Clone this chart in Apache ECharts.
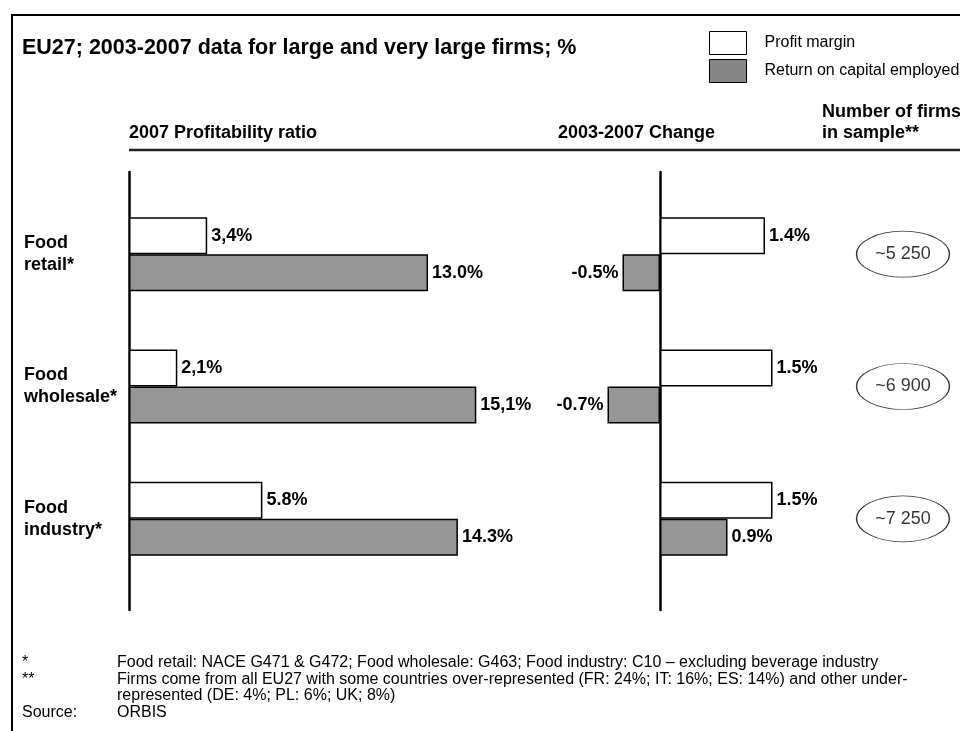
<!DOCTYPE html>
<html>
<head>
<meta charset="utf-8">
<script src="https://cdn.jsdelivr.net/npm/echarts@6/dist/echarts.min.js"></script>
<style>
  html, body { margin: 0; padding: 0; background: #fff; }
  #chart { width: 960px; height: 731px; }
</style>
</head>
<body>
<div id="chart"></div>
<script>
// Sectors, top to bottom
const categories = ['Food\nretail*', 'Food\nwholesale*', 'Food\nindustry*'];

// 2007 profitability ratio, %
const profitMargin2007 = [3.4, 2.1, 5.8];
const roce2007 = [13.0, 15.1, 14.3];
const profitMargin2007Labels = ['3,4%', '2,1%', '5.8%'];
const roce2007Labels = ['13.0%', '15,1%', '14.3%'];

// 2003-2007 change, percentage points
const profitMarginChange = [1.4, 1.5, 1.5];
const roceChange = [-0.5, -0.7, 0.9];
const profitMarginChangeLabels = ['1.4%', '1.5%', '1.5%'];
const roceChangeLabels = ['-0.5%', '-0.7%', '0.9%'];

// Number of firms in the sample (approximate)
const firmsInSample = [5250, 6900, 7250];

const FONT = '"Liberation Sans", Arial, Helvetica, sans-serif';
const GREY = '#969696';

function firmsText(n) {
  const thousands = Math.floor(n / 1000);
  const rest = String(n % 1000).padStart(3, '0');
  return '~' + thousands + ' ' + rest;
}

const valueLabel = {
  show: true,
  position: 'right',
  distance: 4,
  color: '#000',
  fontFamily: FONT,
  fontSize: 18,
  fontWeight: 'bold'
};

function labelledData(values, labels) {
  return values.map((v, i) => ({
    value: v,
    label: Object.assign({}, valueLabel, {
      position: v < 0 ? 'left' : 'right',
      formatter: labels[i]
    })
  }));
}

const gridCommon = { containLabel: false, outerBoundsMode: 'none' };
const hiddenValueAxis = (gridIndex, min, max) => ({
  type: 'value', gridIndex, min, max, show: false, splitLine: { show: false }
});
const categoryAxis = (gridIndex, extra) => Object.assign({
  type: 'category', gridIndex, data: categories, inverse: true,
  axisLine: { show: false }, axisTick: { show: false }, axisLabel: { show: false },
  splitLine: { show: false }
}, extra || {});
const spineAxis = (gridIndex) => ({
  type: 'category', gridIndex, data: [''],
  axisLine: { show: true, onZero: true, lineStyle: { color: '#000', width: 2.5 } },
  axisTick: { show: false }, axisLabel: { show: false }, splitLine: { show: false }
});

const chart = echarts.init(document.getElementById('chart'), null, { renderer: 'canvas' });

chart.setOption({
  animation: false,
  backgroundColor: '#fff',
  title: {
    text: 'EU27; 2003-2007 data for large and very large firms; %',
    left: 22, top: 37, padding: 0,
    textStyle: { fontFamily: FONT, fontSize: 21.5, fontWeight: 'bold', color: '#000' }
  },
  legend: {
    orient: 'vertical',
    left: 709, top: 31, padding: 0,
    itemWidth: 37, itemHeight: 23, itemGap: 4,
    selectedMode: false,
    icon: 'rect',
    data: [
      { name: 'Profit margin', itemStyle: { color: '#fff', borderColor: '#000', borderWidth: 1 } },
      { name: 'Return on capital employed', itemStyle: { color: '#868686', borderColor: '#000', borderWidth: 1 } }
    ],
    textStyle: { fontFamily: FONT, fontSize: 16, color: '#000', padding: [0, 0, 0, 13] }
  },
  grid: [
    Object.assign({ left: 129, top: 188, width: 460, height: 397 }, gridCommon),
    Object.assign({ left: 585, top: 188, width: 225, height: 397 }, gridCommon),
    Object.assign({ left: 853, top: 188, width: 100, height: 397 }, gridCommon),
    Object.assign({ left: 129, top: 172, width: 460, height: 438 }, gridCommon),
    Object.assign({ left: 585, top: 172, width: 225, height: 438 }, gridCommon)
  ],
  xAxis: [
    hiddenValueAxis(0, 0, 20),
    hiddenValueAxis(1, -1, 2),
    hiddenValueAxis(2, -1, 1),
    hiddenValueAxis(3, 0, 20),
    hiddenValueAxis(4, -1, 2)
  ],
  yAxis: [
    categoryAxis(0, {
      axisLabel: {
        show: true, align: 'left', margin: 105,
        fontFamily: FONT, fontSize: 18, fontWeight: 'bold', color: '#000', lineHeight: 22
      }
    }),
    categoryAxis(1),
    categoryAxis(2),
    spineAxis(3),
    spineAxis(4)
  ],
  series: [
    {
      name: 'Profit margin', type: 'bar', xAxisIndex: 0, yAxisIndex: 0,
      barWidth: 37, barGap: '0%',
      itemStyle: { color: '#fff', borderColor: '#000', borderWidth: 1.5 },
      data: labelledData(profitMargin2007, profitMargin2007Labels)
    },
    {
      name: 'Return on capital employed', type: 'bar', xAxisIndex: 0, yAxisIndex: 0,
      barWidth: 37, barGap: '0%',
      itemStyle: { color: GREY, borderColor: '#000', borderWidth: 1.5 },
      data: labelledData(roce2007, roce2007Labels)
    },
    {
      name: 'Profit margin', type: 'bar', xAxisIndex: 1, yAxisIndex: 1,
      barWidth: 37, barGap: '0%',
      itemStyle: { color: '#fff', borderColor: '#000', borderWidth: 1.5 },
      data: labelledData(profitMarginChange, profitMarginChangeLabels)
    },
    {
      name: 'Return on capital employed', type: 'bar', xAxisIndex: 1, yAxisIndex: 1,
      barWidth: 37, barGap: '0%',
      itemStyle: { color: GREY, borderColor: '#000', borderWidth: 1.5 },
      data: labelledData(roceChange, roceChangeLabels)
    },
    {
      name: 'Number of firms', type: 'scatter', xAxisIndex: 2, yAxisIndex: 2,
      symbol: 'circle', symbolSize: [93, 46],
      itemStyle: { color: '#fff', borderColor: '#000', borderWidth: 1 },
      label: {
        show: true, position: 'inside', color: '#000',
        fontFamily: FONT, fontSize: 18,
        formatter: p => firmsText(p.value[2])
      },
      encode: { x: 0, y: 1 },
      data: firmsInSample.map((n, i) => [0, categories[i], n])
    }
  ],
  graphic: [
    // outer frame
    { type: 'rect', silent: true, z: 100,
      shape: { x: 12, y: 15, width: 1000, height: 800 },
      style: { fill: 'none', stroke: '#000', lineWidth: 2 } },
    // column headers
    { type: 'text', silent: true,
      style: { x: 129, y: 133, text: '2007 Profitability ratio', font: 'bold 18px ' + FONT, fill: '#000', verticalAlign: 'middle' } },
    { type: 'text', silent: true,
      style: { x: 715, y: 133, text: '2003-2007 Change', font: 'bold 18px ' + FONT, fill: '#000', align: 'right', verticalAlign: 'middle' } },
    { type: 'text', silent: true,
      style: { x: 822, y: 112, text: 'Number of firms', font: 'bold 18px ' + FONT, fill: '#000', verticalAlign: 'middle' } },
    { type: 'text', silent: true,
      style: { x: 822, y: 133, text: 'in sample**', font: 'bold 18px ' + FONT, fill: '#000', verticalAlign: 'middle' } },
    { type: 'line', silent: true,
      shape: { x1: 129, y1: 150, x2: 960, y2: 150 },
      style: { stroke: '#222', lineWidth: 2.5 } },
    // footnotes
    { type: 'text', silent: true, style: { x: 22, y: 663, text: '*', font: '16px ' + FONT, fill: '#000', verticalAlign: 'middle' } },
    { type: 'text', silent: true, style: { x: 22, y: 680, text: '**', font: '16px ' + FONT, fill: '#000', verticalAlign: 'middle' } },
    { type: 'text', silent: true, style: { x: 22, y: 713, text: 'Source:', font: '16px ' + FONT, fill: '#000', verticalAlign: 'middle' } },
    { type: 'text', silent: true, style: { x: 117, y: 663, text: 'Food retail: NACE G471 & G472; Food wholesale: G463; Food industry: C10 \u2013 excluding beverage industry', font: '16px ' + FONT, fill: '#000', verticalAlign: 'middle' } },
    { type: 'text', silent: true, style: { x: 117, y: 680, text: 'Firms come from all EU27 with some countries over-represented (FR: 24%; IT: 16%; ES: 14%) and other under-', font: '16px ' + FONT, fill: '#000', verticalAlign: 'middle' } },
    { type: 'text', silent: true, style: { x: 117, y: 696, text: 'represented (DE: 4%; PL: 6%; UK; 8%)', font: '16px ' + FONT, fill: '#000', verticalAlign: 'middle' } },
    { type: 'text', silent: true, style: { x: 117, y: 713, text: 'ORBIS', font: '16px ' + FONT, fill: '#000', verticalAlign: 'middle' } }
  ]
});
</script>
</body>
</html>
